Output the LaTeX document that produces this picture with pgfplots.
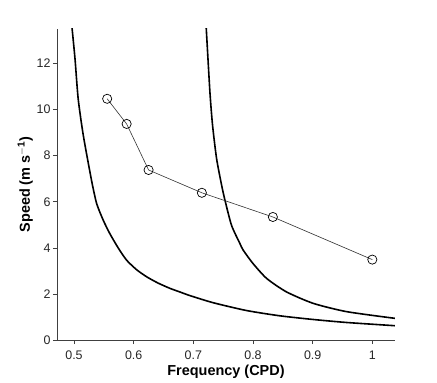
\documentclass[border=0pt]{standalone}
\usepackage{pgfplots}
\pgfplotsset{compat=1.18}
\usepackage{fontspec}
\setmainfont{Liberation Sans}
\setsansfont{Liberation Sans}

\begin{document}
\begin{tikzpicture}
\begin{axis}[
    name=ax,
    scale only axis,
    width=338bp, height=311bp,
    xmin=0.4715, xmax=1.038,
    ymin=0, ymax=13.5,
    axis lines*=left,
    axis line style={black!75, line width=0.7bp},
    tick align=outside,
    tick style={black!75, line width=0.7bp},
    major tick length=4bp,
    xtick={0.5,0.6,0.7,0.8,0.9,1},
    xticklabels={0.5,0.6,0.7,0.8,0.9,1},
    ytick={0,2,4,6,8,10,12},
    /pgf/number format/assume math mode=true,
    tick label style={font=\fontsize{12.5}{14}\selectfont, text=black!85},
    xticklabel style={yshift=-3bp},
    yticklabel style={xshift=1bp},
    xlabel={\textbf{Frequency (CPD)}},
    ylabel={\textbf{Speed (m s\textsuperscript{$-$1})}},
    label style={font=\fontsize{14.5}{16}\selectfont},
    xlabel style={yshift=1bp},
    ylabel style={yshift=-3bp},
    clip=true,
]
% left curve
\addplot[black, line width=1.6bp, mark=none, smooth, tension=0.4] coordinates {
(0.4965,13.6)(0.5017,12.2)(0.507,10.47)(0.5156,8.88)(0.5296,6.9)(0.538,5.92)
(0.549,5.2)(0.560,4.62)(0.574,4.0)(0.588,3.47)(0.605,3.05)(0.622,2.74)(0.641,2.47)
(0.661,2.24)(0.678,2.08)(0.694,1.93)(0.733,1.62)(0.789,1.28)(0.845,1.05)
(0.901,0.89)(0.957,0.76)(1.038,0.62)};

% right curve
\addplot[black, line width=1.6bp, mark=none, smooth, tension=0.4] coordinates {
(0.7215,13.6)(0.7278,10.76)(0.7323,9.3)(0.739,7.87)(0.7474,6.72)(0.753,6.07)
(0.764,4.98)(0.778,4.19)(0.7836,3.9)(0.800,3.32)(0.823,2.67)(0.856,2.09)
(0.901,1.59)(0.957,1.23)(1.038,0.94)};

% measured speeds
\addplot[black!80, line width=0.6bp, mark=o, mark size=4.6bp,
    mark options={line width=0.7bp, black}] coordinates {
(0.5556,10.47)(0.5882,9.38)(0.625,7.38)(0.7143,6.39)(0.8333,5.34)(1.0,3.49)};
\end{axis}
\pgfresetboundingbox
\path ([shift={(-57bp,-43bp)}]ax.south west) rectangle ([shift={(42bp,29bp)}]ax.north east);
\end{tikzpicture}
\end{document}
